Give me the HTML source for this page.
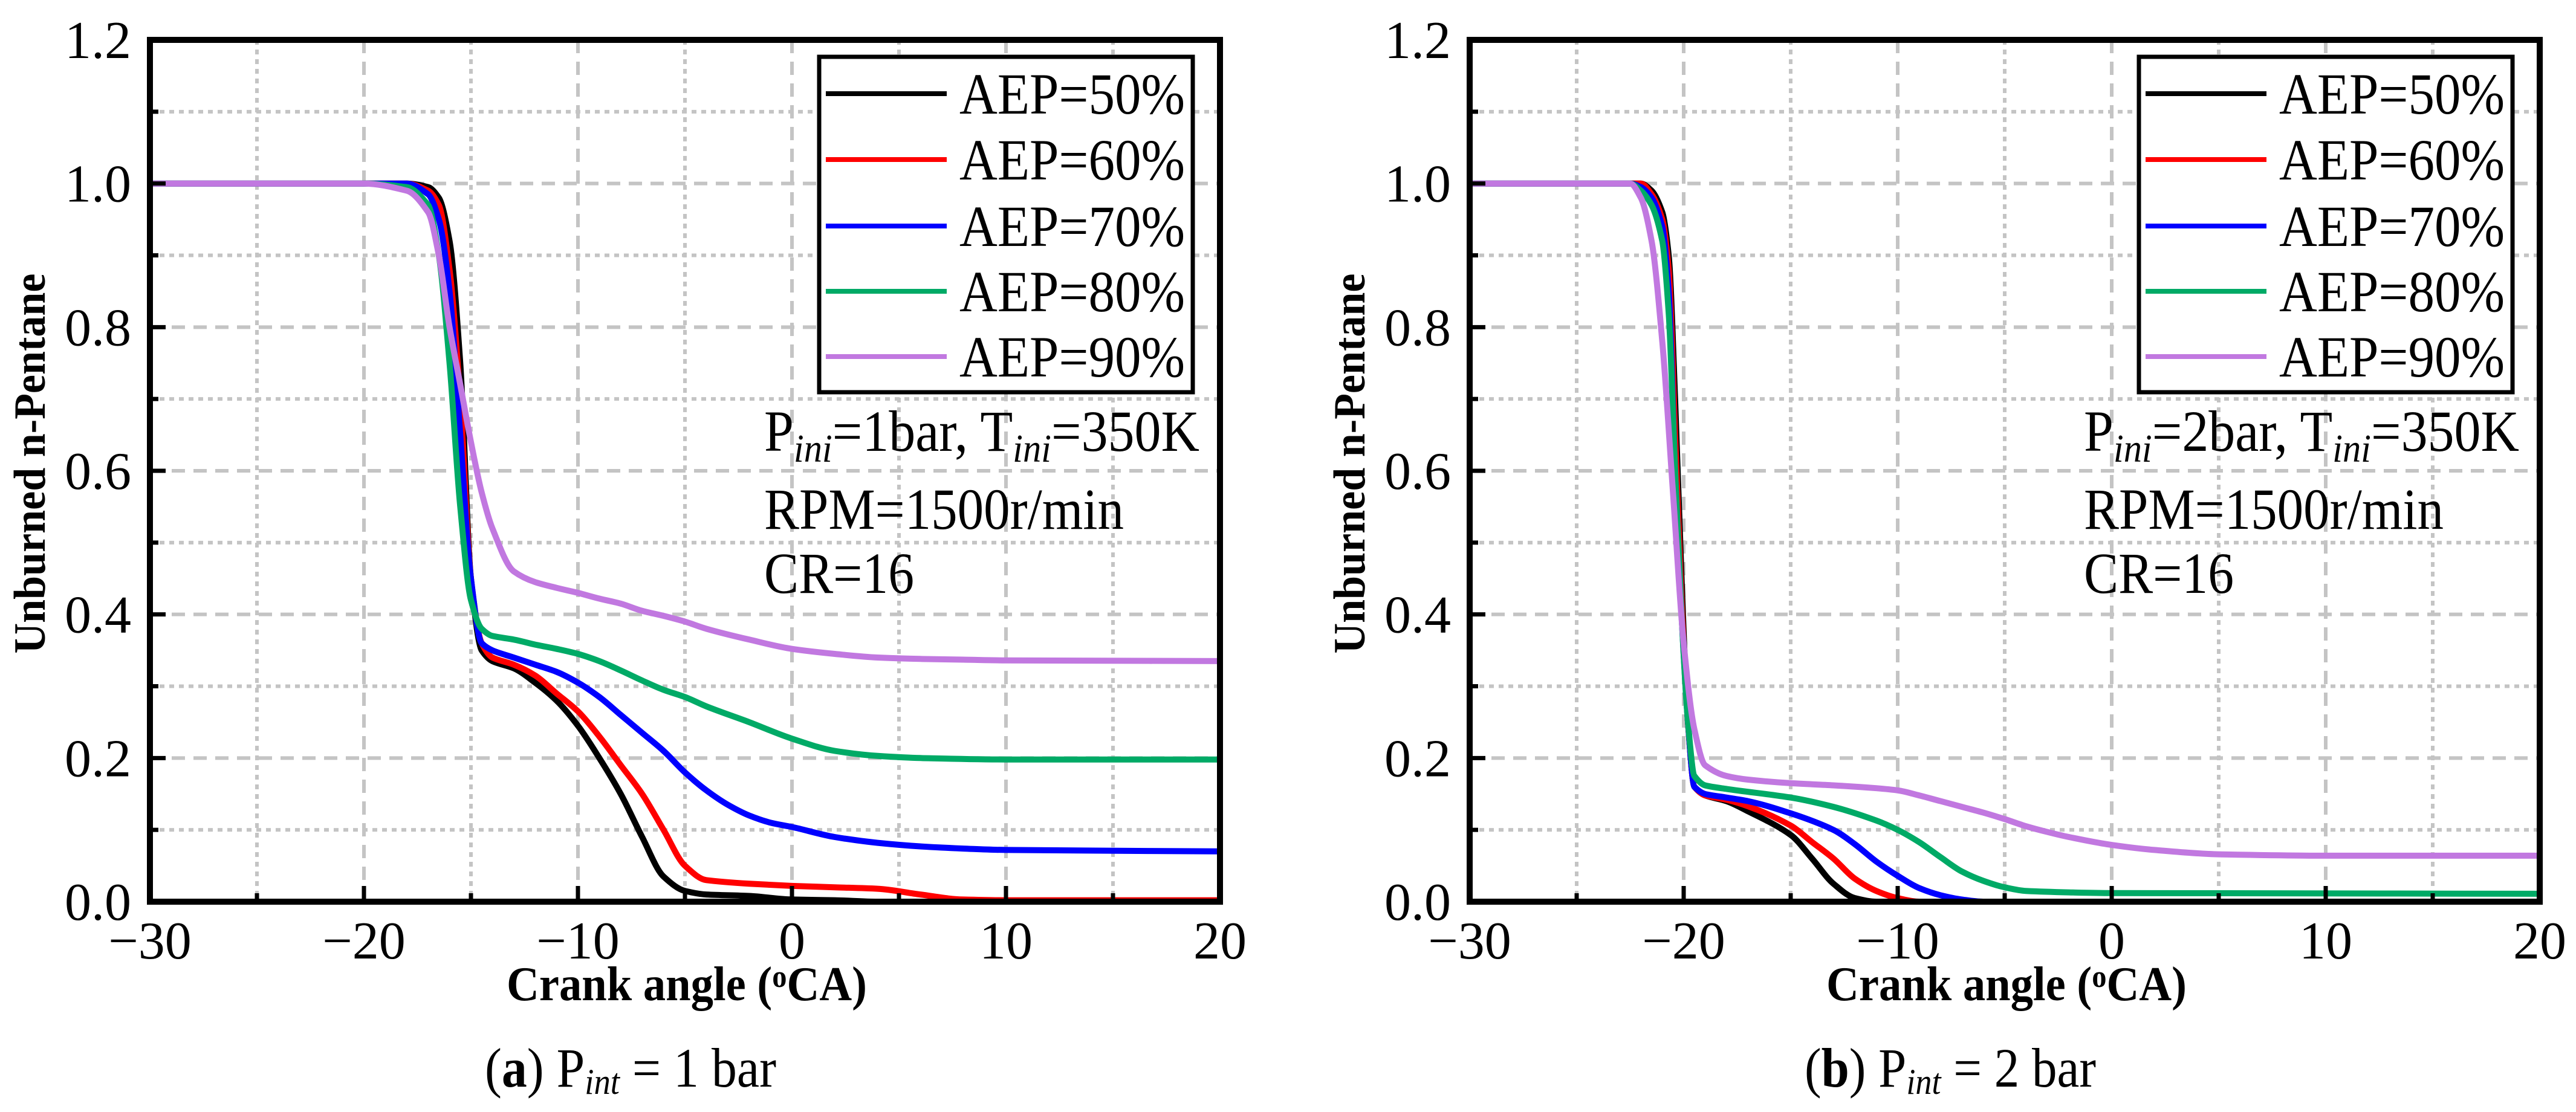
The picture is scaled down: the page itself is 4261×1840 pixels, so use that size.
<!DOCTYPE html>
<html><head><meta charset="utf-8"><style>
html,body{margin:0;padding:0;background:#fff;}
svg{display:block;font-family:"Liberation Serif",serif;}
</style></head><body>
<svg id="chart" width="4261" height="1840" viewBox="0 0 4261 1840" xmlns="http://www.w3.org/2000/svg"></svg>
<script>
// ---- data ----
const seriesLabels = ["AEP=50%","AEP=60%","AEP=70%","AEP=80%","AEP=90%"];
const seriesColors = ["#000000","#ff0000","#0000ff","#00aa66","#c178e0"];
const xTicks = [-30,-20,-10,0,10,20];
const yTicks = [0.0,0.2,0.4,0.6,0.8,1.0,1.2];
const yTickLabels = ["0.0","0.2","0.4","0.6","0.8","1.0","1.2"];

// Panel (a) Pint = 1 bar
const a50x = [-30,-20,-18,-17,-16.5,-16,-15.5,-15,-14.5,-14,-13,-12,-11,-10,-9,-8,-7,-6,-5,-4,-2,0,2,4,10,20];
const a50y = [1,1,1,0.995,0.98,0.92,0.75,0.45,0.35,0.335,0.325,0.305,0.28,0.245,0.2,0.15,0.09,0.035,0.015,0.01,0.008,0.003,0.002,0,0,0];
const a60x = [-30,-20,-18,-17,-16.5,-16,-15.5,-15,-14.5,-14,-13,-12,-11,-10,-9,-8,-7,-6,-5,-4,-2,0,2,4,6,8,10,20];
const a60y = [1,1,1,0.99,0.97,0.88,0.7,0.45,0.36,0.34,0.33,0.315,0.29,0.265,0.23,0.19,0.15,0.1,0.05,0.03,0.025,0.022,0.02,0.018,0.01,0.003,0.002,0.002];
const a70x = [-30,-20,-18,-17,-16.5,-16,-15.5,-15,-14.5,-14,-13,-12,-11,-10,-9,-8,-7,-6,-5,-4,-3,-2,-1,0,2,4,6,8,10,20];
const a70y = [1,1,1,0.985,0.95,0.85,0.65,0.45,0.36,0.35,0.34,0.33,0.32,0.305,0.285,0.26,0.235,0.21,0.18,0.155,0.135,0.12,0.11,0.104,0.09,0.082,0.077,0.074,0.072,0.07];
const a80x = [-30,-20,-18,-17,-16.5,-16,-15.5,-15,-14.5,-14,-13,-12,-11,-10,-9,-8,-7,-6,-5,-4,-2,0,2,4,6,10,20];
const a80y = [1,1,0.995,0.97,0.9,0.75,0.55,0.42,0.38,0.37,0.365,0.358,0.352,0.345,0.335,0.322,0.308,0.295,0.285,0.272,0.25,0.227,0.21,0.203,0.2,0.198,0.198];
const a90x = [-30,-20,-18,-17,-16.5,-16,-15.5,-15,-14.5,-14,-13,-12,-11,-10,-9,-8,-7,-6,-5,-4,-2,0,2,4,6,8,10,20];
const a90y = [1,1,0.99,0.96,0.9,0.8,0.72,0.64,0.57,0.52,0.46,0.445,0.437,0.43,0.422,0.415,0.405,0.398,0.39,0.38,0.365,0.352,0.345,0.34,0.338,0.337,0.336,0.335];

// Panel (b) Pint = 2 bar
const b50x = [-30,-22,-21.5,-21,-20.7,-20.4,-20.1,-19.8,-19.5,-19,-18,-17,-15,-14,-13,-12,-11,20];
const b50y = [1,1,0.99,0.96,0.9,0.7,0.45,0.25,0.16,0.148,0.14,0.126,0.093,0.06,0.025,0.005,0,0];
const b60x = [-30,-22,-21.5,-21,-20.7,-20.4,-20.1,-19.8,-19.5,-19,-18,-17,-15,-14,-13,-12,-11,-10,-9,20];
const b60y = [1,1,0.985,0.95,0.88,0.65,0.42,0.25,0.16,0.148,0.142,0.133,0.106,0.083,0.06,0.032,0.015,0.005,0,0];
const b70x = [-30,-22.5,-22,-21.5,-21,-20.7,-20.4,-20.1,-19.8,-19.5,-19,-18,-17,-15,-13,-12,-11,-10,-9,-8,-7,-6,20];
const b70y = [1,1,0.995,0.98,0.94,0.85,0.6,0.4,0.25,0.16,0.15,0.145,0.14,0.123,0.1,0.08,0.056,0.036,0.019,0.009,0.003,0,0];
const b80x = [-30,-22.5,-22,-21.5,-21,-20.7,-20.4,-20.1,-19.8,-19.5,-19,-18,-15,-13,-11,-10,-9,-8,-7,-6,-5,-4,-2,0,20];
const b80y = [1,1,0.99,0.97,0.92,0.82,0.6,0.4,0.25,0.175,0.162,0.157,0.145,0.132,0.113,0.1,0.083,0.062,0.042,0.029,0.02,0.015,0.013,0.012,0.011];
const b90x = [-30,-22.5,-22,-21.5,-21,-20.5,-20,-19.5,-19,-18,-17,-15,-13,-11,-10,-9,-8,-7,-6,-5,-4,-3,-2,0,2,5,10,20];
const b90y = [1,1,0.98,0.92,0.78,0.57,0.36,0.24,0.19,0.175,0.17,0.165,0.162,0.158,0.155,0.148,0.14,0.132,0.124,0.115,0.105,0.097,0.09,0.079,0.072,0.066,0.064,0.064];

const panelA = {xs:[a50x,a60x,a70x,a80x,a90x], ys:[a50y,a60y,a70y,a80y,a90y], p:"1", ann:"1bar", cap:"a", name:"panel-a"};
const panelB = {xs:[b50x,b60x,b70x,b80x,b90x], ys:[b50y,b60y,b70y,b80y,b90y], p:"2", ann:"2bar", cap:"b", name:"panel-b"};

// ---- drawing ----
const NS = "http://www.w3.org/2000/svg";
const svg = document.getElementById("chart");
function mk(tag, attrs, parent){
  const e = document.createElementNS(NS, tag);
  for (const k in attrs) e.setAttribute(k, attrs[k]);
  (parent||svg).appendChild(e);
  return e;
}
function monotonePath(px, py){
  const n = px.length;
  if (n < 2) return "";
  const d = [], m = new Array(n);
  for (let i=0;i<n-1;i++) d.push((py[i+1]-py[i])/(px[i+1]-px[i]));
  m[0]=d[0]; m[n-1]=d[n-2];
  for (let i=1;i<n-1;i++){
    if (d[i-1]*d[i] <= 0) m[i]=0;
    else m[i] = 3*(d[i-1]+d[i]) / ((2*d[i]+d[i-1])/d[i-1] + (d[i]+2*d[i-1])/d[i]);
  }
  let s = "M"+px[0].toFixed(1)+","+py[0].toFixed(1);
  for (let i=0;i<n-1;i++){
    const h = px[i+1]-px[i];
    s += " C"+(px[i]+h/3).toFixed(1)+","+(py[i]+m[i]*h/3).toFixed(1)+" "+(px[i+1]-h/3).toFixed(1)+","+(py[i+1]-m[i+1]*h/3).toFixed(1)+" "+px[i+1].toFixed(1)+","+py[i+1].toFixed(1);
  }
  return s;
}

function drawPanel(P, off){
  const L = 248+off, R = 2018+off, T = 66, B = 1492;
  const xMin=-30, xMax=20, yMin=0, yMax=1.2;
  const sx = v => L + (v-xMin)/(xMax-xMin)*(R-L);
  const sy = v => B - (v-yMin)/(yMax-yMin)*(B-T);
  const g = mk("g", {});
  
  

  // grid
  const grid = mk("g", {stroke:"#c4c4c4","stroke-width":6,fill:"none"}, g);
  
  
  for (let v=-25; v<20; v+=5){
    const major = (v%10===0);
    const ln = mk("line",{x1:sx(v),x2:sx(v),y1:T,y2:B,"stroke-dasharray":major?"22,14":"8,8"},grid);
    
    
  }
  for (let i=1;i<12;i++){
    const v = i/10;
    const major = (i%2===0);
    const ln = mk("line",{x1:L,x2:R,y1:sy(v),y2:sy(v),"stroke-dasharray":major?"22,14":"8,8"},grid);
    
    
  }

  // series
  for (let s=0;s<5;s++){
    const px = P.xs[s].map(sx), py = P.ys[s].map(sy);
    const path = mk("path",{d:monotonePath(px,py),stroke:seriesColors[s],"stroke-width":10,fill:"none","stroke-linejoin":"round"},g);
    
    
  }

  // ticks
  const tk = mk("g",{stroke:"#000","stroke-width":7},g);
  
  
  for (let v=-25; v<20; v+=5){
    const major = (v%10===0);
    mk("line",{x1:sx(v),x2:sx(v),y1:B,y2:B-(major?26:14)},tk);
  }
  for (let i=1;i<12;i++){
    const major = (i%2===0);
    mk("line",{x1:L,x2:L+(major?26:14),y1:sy(i/10),y2:sy(i/10)},tk);
  }

  // axes box
  const box = mk("rect",{x:L,y:T,width:R-L,height:B-T,fill:"none",stroke:"#000","stroke-width":10},g);
  
  

  // tick labels
  xTicks.forEach(v=>{
    const t = mk("text",{x:sx(v),y:1586,"font-size":88,"text-anchor":"middle"},g);
    t.textContent = v<0 ? "\u2212"+Math.abs(v) : String(v);
    
    
  });
  yTicks.forEach((v,i)=>{
    const t = mk("text",{x:L-31,y:sy(v)+30,"font-size":88,"text-anchor":"end"},g);
    t.textContent = yTickLabels[i];
    
    
  });

  // axis titles
  const xt = mk("text",{x:838+off,y:1655,"font-size":80,"font-weight":"bold",textLength:596,lengthAdjust:"spacingAndGlyphs"},g);
  
  
  xt.appendChild(document.createTextNode("Crank angle  ("));
  const sup = mk("tspan",{"font-size":52,dy:-22},xt); sup.textContent="o";
  const rest = mk("tspan",{dy:22},xt); rest.textContent="CA)";

  const yt = mk("text",{x:0,y:0,"font-size":74,"font-weight":"bold","text-anchor":"middle",textLength:629,lengthAdjust:"spacingAndGlyphs",transform:"translate("+(74+off)+",767) rotate(-90)"},g);
  yt.textContent = "Unburned n-Pentane";
  
  

  // legend
  const lg = mk("g",{},g);
  
  
  mk("rect",{x:1355+off,y:94,width:618,height:555,fill:"#fff",stroke:"#000","stroke-width":7},lg);
  const ly = [155,264,374,482,590];
  for (let s=0;s<5;s++){
    const e = mk("g",{},lg);
    
    
    mk("line",{x1:1366+off,x2:1566+off,y1:ly[s],y2:ly[s],stroke:seriesColors[s],"stroke-width":8},e);
    const t = mk("text",{x:1587+off,y:ly[s]+33,"font-size":96,textLength:373,lengthAdjust:"spacingAndGlyphs"},e);
    t.textContent = seriesLabels[s];
  }

  // annotations
  const a1 = mk("text",{x:1264+off,y:746,"font-size":96,textLength:720,lengthAdjust:"spacingAndGlyphs"},g);
  
  
  a1.appendChild(document.createTextNode("P"));
  let sb = mk("tspan",{"font-style":"italic","font-size":66,dy:18},a1); sb.textContent="ini";
  let tx = mk("tspan",{dy:-18},a1); tx.textContent="="+P.ann+", T";
  sb = mk("tspan",{"font-style":"italic","font-size":66,dy:18},a1); sb.textContent="ini";
  tx = mk("tspan",{dy:-18},a1); tx.textContent="=350K";
  const a2 = mk("text",{x:1264+off,y:875,"font-size":96,textLength:595,lengthAdjust:"spacingAndGlyphs"},g);
  a2.textContent = "RPM=1500r/min";
  
  
  const a3 = mk("text",{x:1264+off,y:981,"font-size":96,textLength:248,lengthAdjust:"spacingAndGlyphs"},g);
  a3.textContent = "CR=16";
  
  

  // caption
  const c = mk("text",{x:802+off,y:1798,"font-size":92,textLength:482,lengthAdjust:"spacingAndGlyphs"},g);
  
  
  c.appendChild(document.createTextNode("("));
  const bb = mk("tspan",{"font-weight":"bold"},c); bb.textContent=P.cap;
  const c2 = mk("tspan",{},c); c2.textContent=") P";
  const c3 = mk("tspan",{"font-style":"italic","font-size":60,dy:12},c); c3.textContent="int";
  const c4 = mk("tspan",{dy:-12},c); c4.textContent=" = "+P.p+" bar";
}
drawPanel(panelA, 0);
drawPanel(panelB, 2183);
</script>
</body></html>
